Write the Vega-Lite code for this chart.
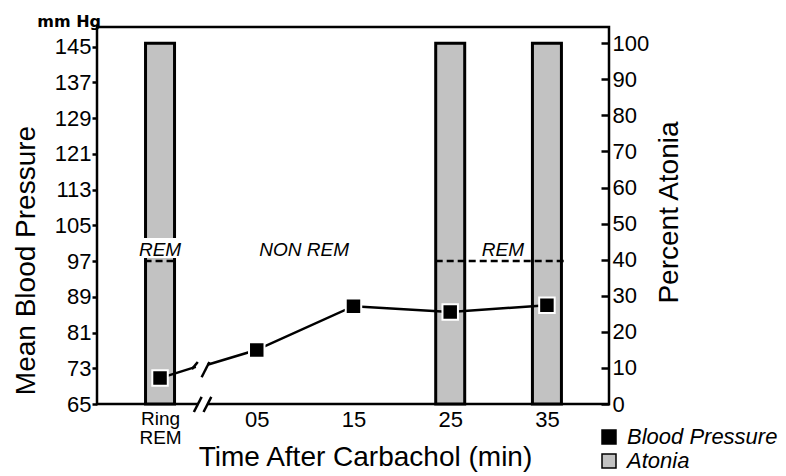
{
  "$schema": "https://vega.github.io/schema/vega-lite/v6.json",
  "width": 512,
  "height": 377,
  "autosize": {"type": "none"},
  "padding": {"left": 97, "top": 27, "right": 177, "bottom": 72},
  "background": "white",
  "config": {
    "font": "Liberation Sans",
    "view": {"stroke": "black", "strokeWidth": 2.5},
    "axis": {
      "labelColor": "black",
      "titleColor": "black",
      "tickColor": "black",
      "domain": false,
      "grid": false,
      "labelFont": "Liberation Sans",
      "titleFont": "Liberation Sans",
      "titleFontWeight": "normal",
      "labelOverlap": false,
      "labelFlush": false
    }
  },
  "datasets": {
    "atonia": [
      {"label": "Ring REM", "pos": 0, "atonia": 100, "series": "Atonia"},
      {"label": "25", "pos": 3, "atonia": 100, "series": "Atonia"},
      {"label": "35", "pos": 4, "atonia": 100, "series": "Atonia"}
    ],
    "gap": [{"pos": 0, "lo": 40.5, "hi": 46}],
    "bp": [
      {"label": "Ring REM", "pos": 0, "bp": 70.8, "seg": "a", "kind": "obs", "series": "Blood Pressure"},
      {"label": "break", "pos": 0.37, "bp": 73.3, "seg": "a", "kind": "break", "series": "Blood Pressure"},
      {"label": "break", "pos": 0.49, "bp": 73.8, "seg": "b", "kind": "break", "series": "Blood Pressure"},
      {"label": "05", "pos": 1, "bp": 77.1, "seg": "b", "kind": "obs", "series": "Blood Pressure"},
      {"label": "15", "pos": 2, "bp": 86.9, "seg": "b", "kind": "obs", "series": "Blood Pressure"},
      {"label": "25", "pos": 3, "bp": 85.6, "seg": "b", "kind": "obs", "series": "Blood Pressure"},
      {"label": "35", "pos": 4, "bp": 87.1, "seg": "b", "kind": "obs", "series": "Blood Pressure"}
    ],
    "remLines": [
      {"x1": -0.16, "x2": 0.16, "y": 97},
      {"x1": 2.85, "x2": 4.19, "y": 97}
    ],
    "axisGap": [{"x1": 0.39, "x2": 0.49, "y": 65}],
    "slashes": [
      {"x1": 0.33, "x2": 0.39, "y1": 72.8, "y2": 74.4},
      {"x1": 0.43, "x2": 0.51, "y1": 71.0, "y2": 74.4},
      {"x1": 0.35, "x2": 0.43, "y1": 63.2, "y2": 66.6},
      {"x1": 0.45, "x2": 0.53, "y1": 63.2, "y2": 66.6}
    ],
    "stageLabels": [
      {"pos": 0, "y": 99.4, "text": "REM"},
      {"pos": 1.49, "y": 99.4, "text": "NON REM"},
      {"pos": 3.545, "y": 99.4, "text": "REM"}
    ],
    "unit": [{"pos": -0.6, "y": 149.4, "text": "mm Hg"}]
  },
  "layer": [
    {
      "layer": [
        {
          "data": {"name": "atonia"},
          "mark": {"type": "bar", "width": 29, "stroke": "black", "strokeWidth": 3},
          "encoding": {
            "x": {
              "field": "pos",
              "type": "quantitative",
              "scale": {"domain": [-0.6, 4.59], "nice": false, "zero": false},
              "axis": {
                "values": [0, 1, 2, 3, 4],
                "tickCount": 20,
                "labelExpr": "datum.value == 0 ? ['Ring','REM'] : datum.value == 1 ? '05' : datum.value == 2 ? '15' : datum.value == 3 ? '25' : '35'",
                "ticks": false,
                "labelOverlap": false,
                "labelFontSize": {"condition": {"test": "datum.value == 0", "value": 19}, "value": 22},
                "labelBaseline": "top",
                "labelPadding": 5,
                "labelLineHeight": 19,
                "title": "Time After Carbachol (min)",
                "titleFontSize": 28,
                "titleX": 268,
                "titleY": 61,
                "titleAlign": "center",
                "titleBaseline": "alphabetic"
              }
            },
            "y": {
              "field": "atonia",
              "type": "quantitative",
              "scale": {"domain": [0, 104.5], "nice": false},
              "axis": {
                "orient": "right",
                "values": [0, 10, 20, 30, 40, 50, 60, 70, 80, 90, 100],
                "tickCount": 20,
                "ticks": true,
                "labelOverlap": false,
                "tickSize": -8,
                "tickWidth": 2.5,
                "labelPadding": 11,
                "labelFontSize": 22,
                "title": "Percent Atonia",
                "titleFontSize": 28,
                "titleAngle": 270,
                "titleX": 68,
                "titleY": 185,
                "titleAlign": "center",
                "titleBaseline": "alphabetic"
              }
            },
            "y2": {"datum": 0},
            "fill": {
              "field": "series",
              "type": "nominal",
              "scale": {"domain": ["Blood Pressure", "Atonia"], "range": ["black", "#c2c2c2"]},
              "legend": {
                "orient": "none",
                "legendX": 501,
                "legendY": 399,
                "title": null,
                "padding": 0,
                "symbolType": "square",
                "symbolSize": 196,
                "labelFontSize": 22,
                "labelFontStyle": "italic",
                "labelFont": "Liberation Sans",
                "labelColor": "black",
                "labelOffset": 7,
                "rowPadding": 2,
                "encode": {
                  "symbols": {
                    "update": {
                      "stroke": {"value": "black"},
                      "strokeWidth": {"value": 1.5},
                      "opacity": {"value": 1}
                    }
                  }
                }
              }
            }
          }
        },
        {
          "data": {"name": "gap"},
          "mark": {"type": "bar", "width": 36, "fill": "white"},
          "encoding": {
            "x": {"field": "pos", "type": "quantitative"},
            "y": {"field": "lo", "type": "quantitative"},
            "y2": {"field": "hi"}
          }
        }
      ]
    },
    {
      "layer": [
        {
          "data": {"name": "axisGap"},
          "mark": {"type": "rule", "stroke": "white", "strokeWidth": 6},
          "encoding": {
            "x": {"field": "x1", "type": "quantitative"},
            "x2": {"field": "x2"},
            "y": {"field": "y", "type": "quantitative"}
          }
        },
        {
          "data": {"name": "remLines"},
          "mark": {"type": "rule", "stroke": "black", "strokeWidth": 2.5, "strokeDash": [7, 4]},
          "encoding": {
            "x": {"field": "x1", "type": "quantitative"},
            "x2": {"field": "x2"},
            "y": {"field": "y", "type": "quantitative"}
          }
        },
        {
          "data": {"name": "bp"},
          "mark": {"type": "line", "stroke": "black", "strokeWidth": 2.5},
          "encoding": {
            "x": {"field": "pos", "type": "quantitative"},
            "y": {
              "field": "bp",
              "type": "quantitative",
              "scale": {"domain": [65, 149.4], "nice": false, "zero": false},
              "axis": {
                "orient": "left",
                "values": [65, 73, 81, 89, 97, 105, 113, 121, 129, 137, 145],
                "tickCount": 20,
                "ticks": true,
                "labelOverlap": false,
                "tickSize": 5,
                "tickWidth": 2.5,
                "labelFontSize": 22,
                "labelPadding": 1,
                "title": "Mean Blood Pressure",
                "titleFontSize": 28,
                "titleAngle": 270,
                "titleX": -63,
                "titleY": 233,
                "titleAlign": "center",
                "titleBaseline": "alphabetic"
              }
            },
            "detail": {"field": "seg"}
          }
        },
        {
          "data": {"name": "slashes"},
          "mark": {"type": "rule", "stroke": "black", "strokeWidth": 2.5},
          "encoding": {
            "x": {"field": "x1", "type": "quantitative"},
            "x2": {"field": "x2"},
            "y": {"field": "y1", "type": "quantitative"},
            "y2": {"field": "y2"}
          }
        },
        {
          "data": {"name": "bp"},
          "transform": [{"filter": "datum.kind == 'obs'"}],
          "mark": {"type": "point", "shape": "square", "filled": true, "size": 240, "stroke": "white", "strokeWidth": 2, "opacity": 1},
          "encoding": {
            "x": {"field": "pos", "type": "quantitative"},
            "y": {"field": "bp", "type": "quantitative"},
            "fill": {"field": "series", "type": "nominal"}
          }
        },
        {
          "data": {"name": "stageLabels"},
          "mark": {"type": "text", "fontSize": 19, "fontStyle": "italic", "font": "Liberation Sans", "color": "black", "baseline": "middle", "align": "center"},
          "encoding": {
            "x": {"field": "pos", "type": "quantitative"},
            "y": {"field": "y", "type": "quantitative"},
            "text": {"field": "text"}
          }
        },
        {
          "data": {"name": "unit"},
          "mark": {"type": "text", "fontSize": 16, "fontWeight": "bold", "font": "DejaVu Sans", "color": "black", "baseline": "alphabetic", "align": "right", "dy": 0, "dx": -1},
          "encoding": {
            "x": {"field": "pos", "type": "quantitative"},
            "y": {"field": "y", "type": "quantitative"},
            "text": {"field": "text"}
          }
        }
      ]
    }
  ],
  "resolve": {"scale": {"y": "independent"}}
}
